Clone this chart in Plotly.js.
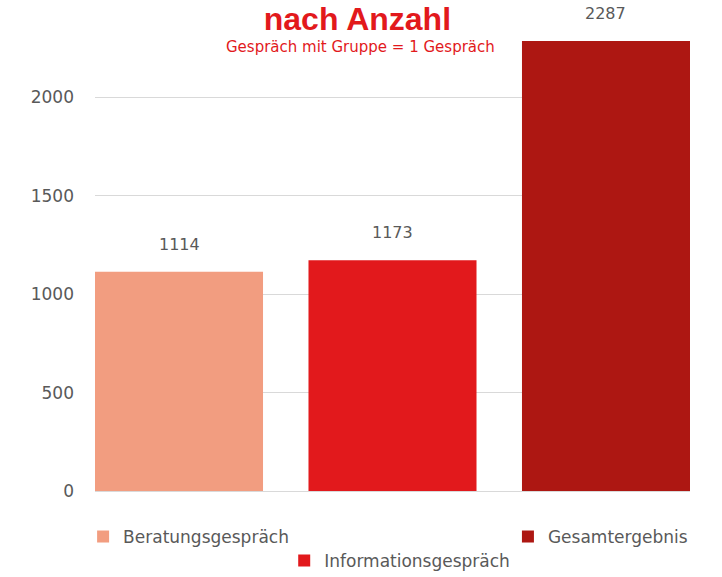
<!DOCTYPE html>
<html>
<head>
<meta charset="utf-8">
<script src="https://cdn.plot.ly/plotly-3.0.1.min.js"></script>
<style>html,body{margin:0;padding:0;background:#fff;}#chart{width:722px;height:577px;}</style>
</head>
<body>
<div id="chart"></div>
<script>
const seriesNames = ["Beratungsgespräch", "Informationsgespräch", "Gesamtergebnis"];
const seriesValues = [1114, 1173, 2287];
const seriesColors = ["#f29d80", "#e2191c", "#ad1712"];
const seriesLegend = ["legend", "legend2", "legend3"];
const yTicks = [0, 500, 1000, 1500, 2000];
const titleText = "nach Anzahl";
const subtitleText = "Gespräch mit Gruppe = 1 Gespräch";

const font = "DejaVu Sans, sans-serif";
const grey = "#595959";

const traces = seriesNames.map((name, i) => ({
  type: "bar",
  name: name,
  x: [name],
  y: [seriesValues[i]],
  marker: {color: seriesColors[i]},
  legend: seriesLegend[i],
  hoverinfo: "x+y"
}));

const valueLabels = seriesNames.map((name, i) => ({
  x: name, y: seriesValues[i],
  xref: "x", yref: "y",
  text: String(seriesValues[i]),
  xanchor: "center", yanchor: "bottom",
  yshift: 16,
  showarrow: false,
  font: {family: font, size: 16, color: grey}
}));

const bargap = 0.213;
const w = 1 - bargap;

const legendBase = {
  orientation: "h",
  xanchor: "left", yanchor: "top",
  font: {family: font, size: 17, color: grey},
  itemwidth: 30,
  bgcolor: "rgba(0,0,0,0)"
};

const layout = {
  width: 722, height: 577,
  margin: {l: 95, r: 32, t: 40, b: 86, autoexpand: false},
  paper_bgcolor: "#ffffff", plot_bgcolor: "#ffffff",
  barmode: "overlay",
  bargap: bargap,
  showlegend: true,
  xaxis: {
    type: "category",
    categoryarray: seriesNames,
    range: [-w / 2, seriesNames.length - 1 + w / 2],
    showticklabels: false, showgrid: false, zeroline: false,
    showline: false, ticks: ""
  },
  yaxis: {
    range: [0, 2292],
    tickvals: yTicks,
    ticktext: yTicks.map(String),
    tickfont: {family: font, size: 17, color: grey},
    showgrid: true, gridcolor: "#d9d9d9", gridwidth: 1,
    zeroline: true, zerolinecolor: "#d9d9d9", zerolinewidth: 1,
    showline: false, ticks: "", ticklabelstandoff: 20
  },
  title: {
    text: titleText,
    font: {family: "Liberation Sans, Arial, sans-serif", size: 32, color: "#e2191c", weight: "bold"},
    x: 0.495, xanchor: "center", xref: "container",
    y: 0.967, yanchor: "middle", yref: "container"
  },
  annotations: [{
    text: subtitleText,
    xref: "paper", yref: "paper",
    x: 0.5, y: 1.0, xanchor: "center", yanchor: "middle",
    xshift: -32, yshift: -7,
    showarrow: false,
    font: {family: font, size: 15, color: "#e2191c"}
  }].concat(valueLabels),
  legend: Object.assign({}, legendBase, {x: -0.02, y: -0.062}),
  legend2: Object.assign({}, legendBase, {x: 0.318, y: -0.115}),
  legend3: Object.assign({}, legendBase, {x: 0.694, y: -0.062})
};

Plotly.newPlot("chart", traces, layout, {displayModeBar: false, staticPlot: true});
</script>
</body>
</html>
